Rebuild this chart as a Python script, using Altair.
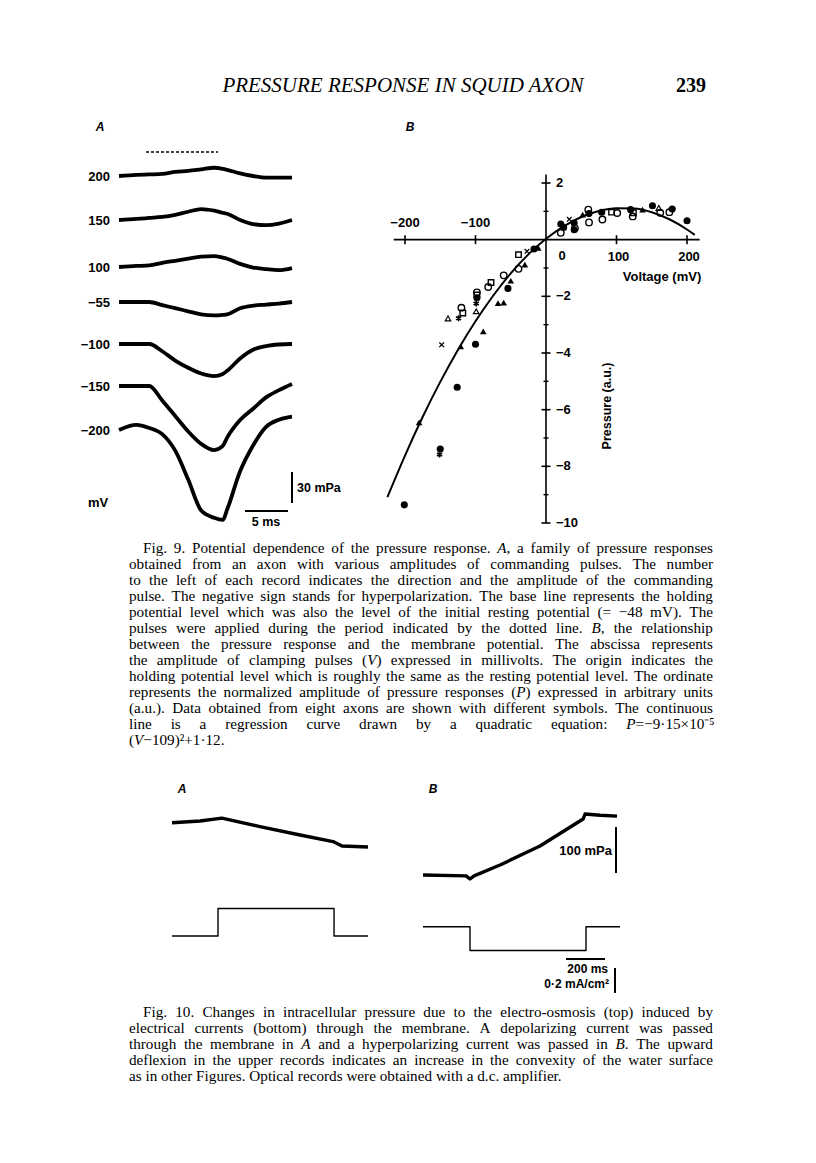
import re
import altair as alt
import pandas as pd

OFF = 8            # page margin of the browser
W, H = 800, 1140

# ---------------- header ----------------
header_title = "PRESSURE RESPONSE IN SQUID AXON"
page_number = "239"

# ---------------- Fig. 9 A : pressure records (t in ms, pressure in mPa) ----------------
recA_labels = ["200", "150", "100", "\u221255", "\u2212100", "\u2212150", "\u2212200"]
recA_t = [0, 2, 3.5, 5, 6.5, 8, 9.5, 11, 12, 12.5, 14, 15.5, 17, 18.5, 20]
recA_vals = [
    [0, 1, 1.5, 2, 4, 5, 6.5, 8, 7, 6, 2.5, 0, -1.5, -1.5, -1.5],
    [0, 1, 2, 3, 5, 8, 10.5, 9, 7, 6, 0, -4, -5, -3.5, 0],
    [0, 1, 1.5, 4, 6, 8, 10, 10.5, 9, 8, 3, -0.5, -2, -3, -1],
    [0, 0, 0, -3, -6, -9, -12, -13, -12.5, -12, -6, -3.5, -2.5, -1.5, 0],
    [0, 0, 0, -7, -16, -23, -28.5, -31, -29, -26, -14, -5.5, -2, -0.5, 0],
    [0, 0, 0, -14, -29, -44, -56, -62, -58, -50, -33, -22, -11, -4, 2],
    [0, 5, 2, -4, -20, -48, -78, -85, -87, -77, -40, -15, 3, 10, 13],
]
recA_base = [176, 220, 267, 302, 344, 386, 430]   # layout: page y of each record

# ---------------- Fig. 9 B : pressure vs voltage ----------------
fc_V = [151, 200, 21, 25, 40, 40, 61, 79, 120, 179, -17, -54, -98, -100, -126, -150, -201]
fc_P = [1.20, 0.67, 0.55, 0.43, 0.59, 0.35, 0.92, 0.97, 1.06, 1.08, -0.33, -1.72, -2.05, -3.69, -5.21, -7.39, -9.36]
oc_V = [21, 41, 61, 60, 80, 101, 123, 162, 175, -39, -60, -82, -98, -120]
oc_P = [0.24, 0.40, 0.61, 1.06, 0.71, 0.94, 0.82, 0.95, 0.97, -1.03, -1.26, -1.67, -1.86, -2.40]
os_V = [93, 124, -39, -78, -98, -118]
os_P = [0.97, 0.95, -0.53, -1.51, -1.95, -2.59]
ft_V = [52, 137, -11, -30, -50, -60, -68, -89, -121, -180]
ft_P = [0.88, 1.06, -0.29, -0.88, -1.45, -2.22, -2.24, -3.24, -3.77, -6.45]
ot_V = [-99, -139, 160]
ot_P = [-2.53, -2.78, 1.12]
xx_V = [33, -27, -148]
xx_P = [0.72, -0.41, -3.71]
st_V = [-99, -124, -151]
st_P = [-2.25, -2.77, -7.58]

# regression curve
curve_V = [-225, -200, -175, -150, -125, -100, -75, -50, -25, 0, 25, 50, 75, 100, 125, 150, 175, 200, 211]
curve_P = [-9.09, -7.62, -6.26, -5.02, -3.89, -2.88, -1.98, -1.19, -0.52, 0.03, 0.47, 0.80, 1.01,
           1.11, 1.10, 0.97, 0.72, 0.36, 0.17]

x_ticks = [-200, -100, 100, 200]
x_tick_labels_top = ["\u2212200", "\u2212100"]
x_tick_labels_bot = ["100", "200"]
y_major = [2, -2, -4, -6, -8, -10]
y_major_labels = ["2", "\u22122", "\u22124", "\u22126", "\u22128", "\u221210"]
y_minor = [1, -1, -3, -5, -7, -9]

# ---------------- Fig. 10 ----------------
f10A_t = [0, 144, 256, 451, 657, 826, 872, 1005]
f10A_p = [0, 3.7, 10, -8.7, -26.7, -41, -50.7, -52.8]
f10A_it = [0, 236, 236, 831, 831, 1005]
f10A_i = [0, 0, 0.22, 0.22, 0, 0]
f10B_t = [0, 221, 241, 262, 395, 600, 821, 831, 908, 995]
f10B_p = [0, -2, -8.7, -2, 21.7, 63, 121.7, 132.6, 130, 128]
f10B_it = [0, 241, 241, 836, 836, 1010]
f10B_i = [0, 0, -0.19, -0.19, 0, 0]

cap9 = [
    "Fig. 9. Potential dependence of the pressure response. {A}, a family of pressure responses",
    "obtained from an axon with various amplitudes of commanding pulses. The number",
    "to the left of each record indicates the direction and the amplitude of the commanding",
    "pulse. The negative sign stands for hyperpolarization. The base line represents the holding",
    "potential level which was also the level of the initial resting potential (= \u221248 mV). The",
    "pulses were applied during the period indicated by the dotted line. {B}, the relationship",
    "between the pressure response and the membrane potential. The abscissa represents",
    "the amplitude of clamping pulses ({V}) expressed in millivolts. The origin indicates the",
    "holding potential level which is roughly the same as the resting potential level. The ordinate",
    "represents the normalized amplitude of pressure responses ({P}) expressed in arbitrary units",
    "(a.u.). Data obtained from eight axons are shown with different symbols. The continuous",
    "line is a regression curve drawn by a quadratic equation: {P}=\u22129\u00b715\u00d710\u207b\u2075",
    "({V}\u2212109)\u00b2+1\u00b712.",
]
cap10 = [
    "Fig. 10. Changes in intracellular pressure due to the electro-osmosis (top) induced by",
    "electrical currents (bottom) through the membrane. A depolarizing current was passed",
    "through the membrane in {A} and a hyperpolarizing current was passed in {B}. The upward",
    "deflexion in the upper records indicates an increase in the convexity of the water surface",
    "as in other Figures. Optical records were obtained with a d.c. amplifier.",
]

# ---------------- text layout helpers (Times metrics, 1/1000 em) ----------------
TIMES = {' ': 250, '.': 250, ',': 250, ':': 278, ';': 278, '(': 333, ')': 333, '-': 333,
         '=': 564, '\u00d7': 564, '\u2212': 564, '\u00b7': 250, '\u00b2': 300, '\u207b': 350,
         '\u2075': 300, '+': 564}
for c, w in zip("abcdefghijklmnopqrstuvwxyz",
                [444, 500, 444, 500, 444, 333, 500, 500, 278, 278, 500, 278, 778, 500, 500, 500,
                 500, 333, 389, 278, 500, 500, 722, 500, 500, 444]):
    TIMES[c] = w
for c, w in zip("ABCDEFGHIJKLMNOPQRSTUVWXYZ",
                [722, 667, 667, 722, 611, 556, 722, 722, 333, 389, 722, 611, 889, 722, 722, 556,
                 722, 667, 556, 611, 722, 722, 944, 722, 722, 611]):
    TIMES[c] = w
for c in "0123456789":
    TIMES[c] = 500
ITAL = {'A': 611, 'B': 611, 'P': 611, 'V': 611}


def seg_w(s, it, size):
    tot = 0
    for c in s:
        tot += ITAL.get(c, TIMES.get(c, 500)) if it else TIMES.get(c, 500)
    return tot * size / 1000.0


def parse_word(w):
    segs = []
    for part in re.split(r'(\{[^}]*\})', w):
        if not part:
            continue
        if part.startswith('{'):
            segs.append((part[1:-1], True))
        else:
            segs.append((part, False))
    return segs


def layout(lines, y0, lead, x0, x1, indent, size):
    rows = []
    for i, line in enumerate(lines):
        words = [parse_word(w) for w in line.split(' ')]
        widths = [sum(seg_w(s, it, size) for s, it in w) for w in words]
        left = x0 + (indent if i == 0 else 0)
        if i == len(lines) - 1:
            gap = TIMES[' '] * size / 1000.0
        else:
            gap = (x1 - left - sum(widths)) / (len(words) - 1)
        x = left
        y = y0 + i * lead
        for w, wd in zip(words, widths):
            sx = x
            for s, it in w:
                rows.append(dict(x=sx - OFF, y=y - OFF, s=s, st='i' if it else 'n'))
                sx += seg_w(s, it, size)
            x += wd + gap
    return rows


CAP_SIZE = 15.2
cap_rows = layout(cap9, 552.5, 16, 129, 713, 14, CAP_SIZE) + layout(cap10, 1016.5, 16, 129, 713, 14, CAP_SIZE)
cap_df = pd.DataFrame(cap_rows)

SANS = "Liberation Sans"
LAB = 13
LABW = "bold"

layers = []


def txt(s, x, y, size=LAB, font=SANS, align="left", baseline="middle",
        weight=LABW, style="normal", angle=0):
    return alt.Chart(pd.DataFrame({"s": [s]})).mark_text(
        font=font, fontSize=size, align=align, baseline=baseline, fontWeight=weight,
        fontStyle=style, angle=angle, color="black"
    ).encode(x=alt.value(x - OFF), y=alt.value(y - OFF), text="s:N")


def bar(x1, y1, x2, y2, w=2.0, dash=None):
    kw = dict(color="black", strokeWidth=w)
    if dash:
        kw["strokeDash"] = dash
    return alt.Chart(pd.DataFrame({"a": [0]})).mark_rule(**kw).encode(
        x=alt.value(x1 - OFF), x2=alt.value(x2 - OFF), y=alt.value(y1 - OFF), y2=alt.value(y2 - OFF))


# header
layers.append(txt(header_title, 403, 92, size=21, font="Liberation Serif", align="center",
                  baseline="alphabetic", style="italic", weight="normal"))
layers.append(txt(page_number, 691, 92, size=20, font="Liberation Serif", align="center",
                  baseline="alphabetic", weight="bold"))

# panel letters
for s, x, y in [("A", 100, 127), ("B", 410, 127), ("A", 182, 789), ("B", 433, 789)]:
    layers.append(txt(s, x, y, size=12, align="center", weight="bold", style="italic"))

# ---------------- Fig. 9 A ----------------
XA = alt.Scale(domain=[0, 20], range=[119 - OFF, 292 - OFF], nice=False, zero=False)
K = 31 / 30.0
for lab, vals, b in zip(recA_labels, recA_vals, recA_base):
    df = pd.DataFrame({"t": recA_t, "p": vals})
    ys = alt.Scale(domain=[-100, 30], range=[b - OFF + 100 * K, b - OFF - 30 * K], nice=False, zero=False)
    layers.append(alt.Chart(df).mark_line(color="black", strokeWidth=3.8, strokeJoin="round",
                                          interpolate="monotone").encode(
        x=alt.X("t:Q", scale=XA, axis=None), y=alt.Y("p:Q", scale=ys, axis=None)))
    layers.append(txt(lab, 110, b + 1, align="right"))
layers.append(txt("mV", 98, 503, align="center"))
layers.append(bar(146, 152, 218, 152, w=1.5, dash=[3, 2]))
layers.append(bar(292, 472, 292, 503, w=2))
layers.append(txt("30 mPa", 297, 488, size=12.5))
layers.append(bar(245, 511, 288, 511, w=2))
layers.append(txt("5 ms", 266, 522, size=12.5, align="center"))

# ---------------- Fig. 9 B ----------------
XB = alt.Scale(domain=[-200, 200], range=[405 - OFF, 687 - OFF], nice=False, zero=False)
YB = alt.Scale(domain=[-10, 2], range=[523 - OFF, 183 - OFF], nice=False, zero=False)


def enc(xf="V", yf="P"):
    return dict(x=alt.X(f"{xf}:Q", scale=XB, axis=None), y=alt.Y(f"{yf}:Q", scale=YB, axis=None))


def lab_kw(**kw):
    d = dict(font=SANS, fontSize=LAB, fontWeight=LABW, baseline="middle", color="black")
    d.update(kw)
    return d


# axes
layers.append(alt.Chart(pd.DataFrame({"V": [-216], "V2": [218], "P": [0]})).mark_rule(
    color="black", strokeWidth=1.6).encode(x2="V2:Q", **enc()))
layers.append(alt.Chart(pd.DataFrame({"V": [0], "P": [2.3], "P2": [-10]})).mark_rule(
    color="black", strokeWidth=1.6).encode(y2="P2:Q", **enc()))
layers.append(alt.Chart(pd.DataFrame({"V": x_ticks, "P": [0] * len(x_ticks)})).mark_tick(
    orient="vertical", size=9, thickness=1.6, color="black", opacity=1).encode(**enc()))
layers.append(alt.Chart(pd.DataFrame({"V": [0] * len(y_major), "P": y_major})).mark_tick(
    orient="horizontal", size=9, thickness=1.6, color="black", opacity=1).encode(**enc()))
layers.append(alt.Chart(pd.DataFrame({"V": [0] * len(y_minor), "P": y_minor})).mark_tick(
    orient="horizontal", size=5, thickness=1.4, color="black", opacity=1).encode(**enc()))
# tick labels
layers.append(alt.Chart(pd.DataFrame({"V": [-200, -100], "P": [0, 0], "s": x_tick_labels_top})).mark_text(
    **lab_kw(dy=-17, align="center")).encode(text="s:N", **enc()))
layers.append(alt.Chart(pd.DataFrame({"V": [100, 200], "P": [0, 0], "s": x_tick_labels_bot})).mark_text(
    **lab_kw(dy=17, dx=2, align="center")).encode(text="s:N", **enc()))
layers.append(alt.Chart(pd.DataFrame({"V": [0], "P": [0], "s": ["0"]})).mark_text(
    **lab_kw(dy=16, dx=16, align="center")).encode(text="s:N", **enc()))
layers.append(alt.Chart(pd.DataFrame({"V": [0] * len(y_major), "P": y_major, "s": y_major_labels})).mark_text(
    **lab_kw(dx=10, align="left")).encode(text="s:N", **enc()))
layers.append(txt("Voltage (mV)", 662, 277, align="center"))
layers.append(txt("Pressure (a.u.)", 607, 406, size=12.5, align="center", angle=270))

# curve
layers.append(alt.Chart(pd.DataFrame({"V": curve_V, "P": curve_P})).mark_line(
    color="black", strokeWidth=2, interpolate="monotone").encode(**enc()))

CROSS = "M-1,-1L1,1M-1,1L1,-1"
STAR = "M0,-1L0,1M-0.87,-0.5L0.87,0.5M-0.87,0.5L0.87,-0.5"
symbols = [
    (fc_V, fc_P, "circle", True, 50, 1),
    (oc_V, oc_P, "circle", False, 42, 1.4),
    (os_V, os_P, "square", False, 30, 1.4),
    (ft_V, ft_P, "triangle-up", True, 44, 1),
    (ot_V, ot_P, "triangle-up", False, 30, 1.2),
    (xx_V, xx_P, CROSS, False, 22, 1.3),
    (st_V, st_P, STAR, False, 36, 1.7),
]
for V, P, shape, filled, size, sw in symbols:
    layers.append(alt.Chart(pd.DataFrame({"V": V, "P": P})).mark_point(
        shape=shape, filled=filled, size=size, strokeWidth=sw, color="black", opacity=1).encode(**enc()))

# ---------------- Fig. 10 ----------------
X10A = alt.Scale(domain=[0, 1000], range=[172 - OFF, 367 - OFF], nice=False, zero=False)
X10B = alt.Scale(domain=[0, 1000], range=[423 - OFF, 618 - OFF], nice=False, zero=False)
Y10Ap = alt.Scale(domain=[-100, 100], range=[868.7 - OFF, 776.7 - OFF], nice=False, zero=False)
Y10Ai = alt.Scale(domain=[0, 0.2], range=[936 - OFF, 911 - OFF], nice=False, zero=False)
Y10Bp = alt.Scale(domain=[0, 100], range=[875 - OFF, 829 - OFF], nice=False, zero=False)
Y10Bi = alt.Scale(domain=[-0.2, 0], range=[951.7 - OFF, 926.7 - OFF], nice=False, zero=False)

for t, v, xs, ys, w in [(f10A_t, f10A_p, X10A, Y10Ap, 3.4), (f10A_it, f10A_i, X10A, Y10Ai, 1.4),
                        (f10B_t, f10B_p, X10B, Y10Bp, 3.4), (f10B_it, f10B_i, X10B, Y10Bi, 1.4)]:
    df = pd.DataFrame({"t": t, "v": v, "k": list(range(len(t)))})
    layers.append(alt.Chart(df).mark_line(color="black", strokeWidth=w, strokeJoin="round").encode(
        x=alt.X("t:Q", scale=xs, axis=None), y=alt.Y("v:Q", scale=ys, axis=None), order="k:Q"))

layers.append(bar(616, 827, 616, 873, w=2))
layers.append(txt("100 mPa", 612, 851, align="right"))
layers.append(bar(566, 959, 605, 959, w=2))
layers.append(txt("200 ms", 608, 969, size=12, align="right"))
layers.append(bar(615, 968, 615, 993, w=2))
layers.append(txt("0\u00b72 mA/cm\u00b2", 609, 984, size=12, align="right"))

# ---------------- captions ----------------
for st, style in [("n", "normal"), ("i", "italic")]:
    layers.append(alt.Chart(cap_df).transform_filter(f"datum.st == '{st}'").mark_text(
        font="Liberation Serif", fontSize=CAP_SIZE, align="left", baseline="alphabetic",
        fontStyle=style, color="black").encode(
        x=alt.X("x:Q", scale=None, axis=None), y=alt.Y("y:Q", scale=None, axis=None), text="s:N"))

chart = alt.layer(*layers).resolve_scale(x="independent", y="independent").properties(
    width=W, height=H, padding=0, autosize=alt.AutoSizeParams(type="none"), background="white"
).configure_view(stroke=None)

chart.save("out.html", embed_options={"renderer": "svg", "actions": False})
